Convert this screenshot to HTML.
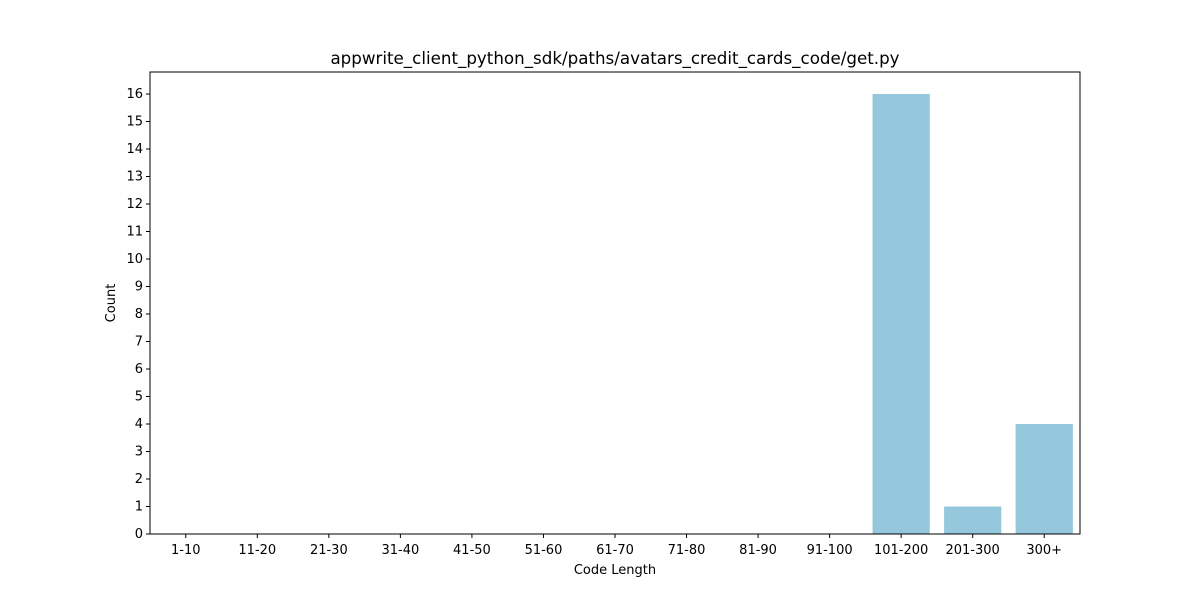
<!DOCTYPE html>
<html><head><meta charset="utf-8"><style>
body{margin:0;background:#fff;font-family:"Liberation Sans","DejaVu Sans",sans-serif}
</style></head><body>
<svg id="chart" width="1200" height="600" xmlns="http://www.w3.org/2000/svg" font-family="DejaVu Sans, Liberation Sans, sans-serif">
<rect width="1200" height="600" fill="#fff"/>
<g id="plot"></g>
</svg>
<script>
const categories=["1-10","11-20","21-30","31-40","41-50","51-60","61-70","71-80","81-90","91-100","101-200","201-300","300+"];
const counts=[0,0,0,0,0,0,0,0,0,0,16,1,4];
const yTicks=[0,1,2,3,4,5,6,7,8,9,10,11,12,13,14,15,16];
const L=150,R=1080,T=72,B=534,yMax=16.8;
const ns="http://www.w3.org/2000/svg";
const g=document.getElementById('plot');
function y(v){return B-(B-T)*v/yMax;}
const step=(R-L)/categories.length;
function x(i){return L+step*(i+0.5);}
function mk(t,a,p){const e=document.createElementNS(ns,t);for(const k in a)e.setAttribute(k,a[k]);(p||g).appendChild(e);return e;}
counts.forEach((c,i)=>{
 const r=mk('rect',{x:x(i)-step*0.4,y:y(c),width:step*0.8,height:B-y(c),fill:'#95c8dc'});
 
 
});
const frame=mk('rect',{x:L,y:T,width:R-L,height:B-T,fill:'none',stroke:'#000','stroke-width':1});


yTicks.forEach(v=>{
 mk('line',{x1:L-4,x2:L,y1:y(v),y2:y(v),stroke:'#000'});
 const t=mk('text',{x:L-7,y:y(v)+4,'text-anchor':'end','font-size':13});
 t.textContent=v;
 
 
});
categories.forEach((c,i)=>{
 mk('line',{x1:x(i),x2:x(i),y1:B,y2:B+4,stroke:'#000'});
 const t=mk('text',{x:x(i),y:B+20,'text-anchor':'middle','font-size':13});
 t.textContent=c;
 
 
});
const xt=mk('text',{x:(L+R)/2,y:574,'text-anchor':'middle','font-size':13});xt.textContent='Code Length';


const yt=mk('text',{x:115,y:(T+B)/2,'text-anchor':'middle','font-size':13,transform:'rotate(-90 115 '+(T+B)/2+')'});yt.textContent='Count';


const tt=mk('text',{x:(L+R)/2,y:64,'text-anchor':'middle','font-size':16.7});tt.textContent='appwrite_client_python_sdk/paths/avatars_credit_cards_code/get.py';


</script>
</body></html>
